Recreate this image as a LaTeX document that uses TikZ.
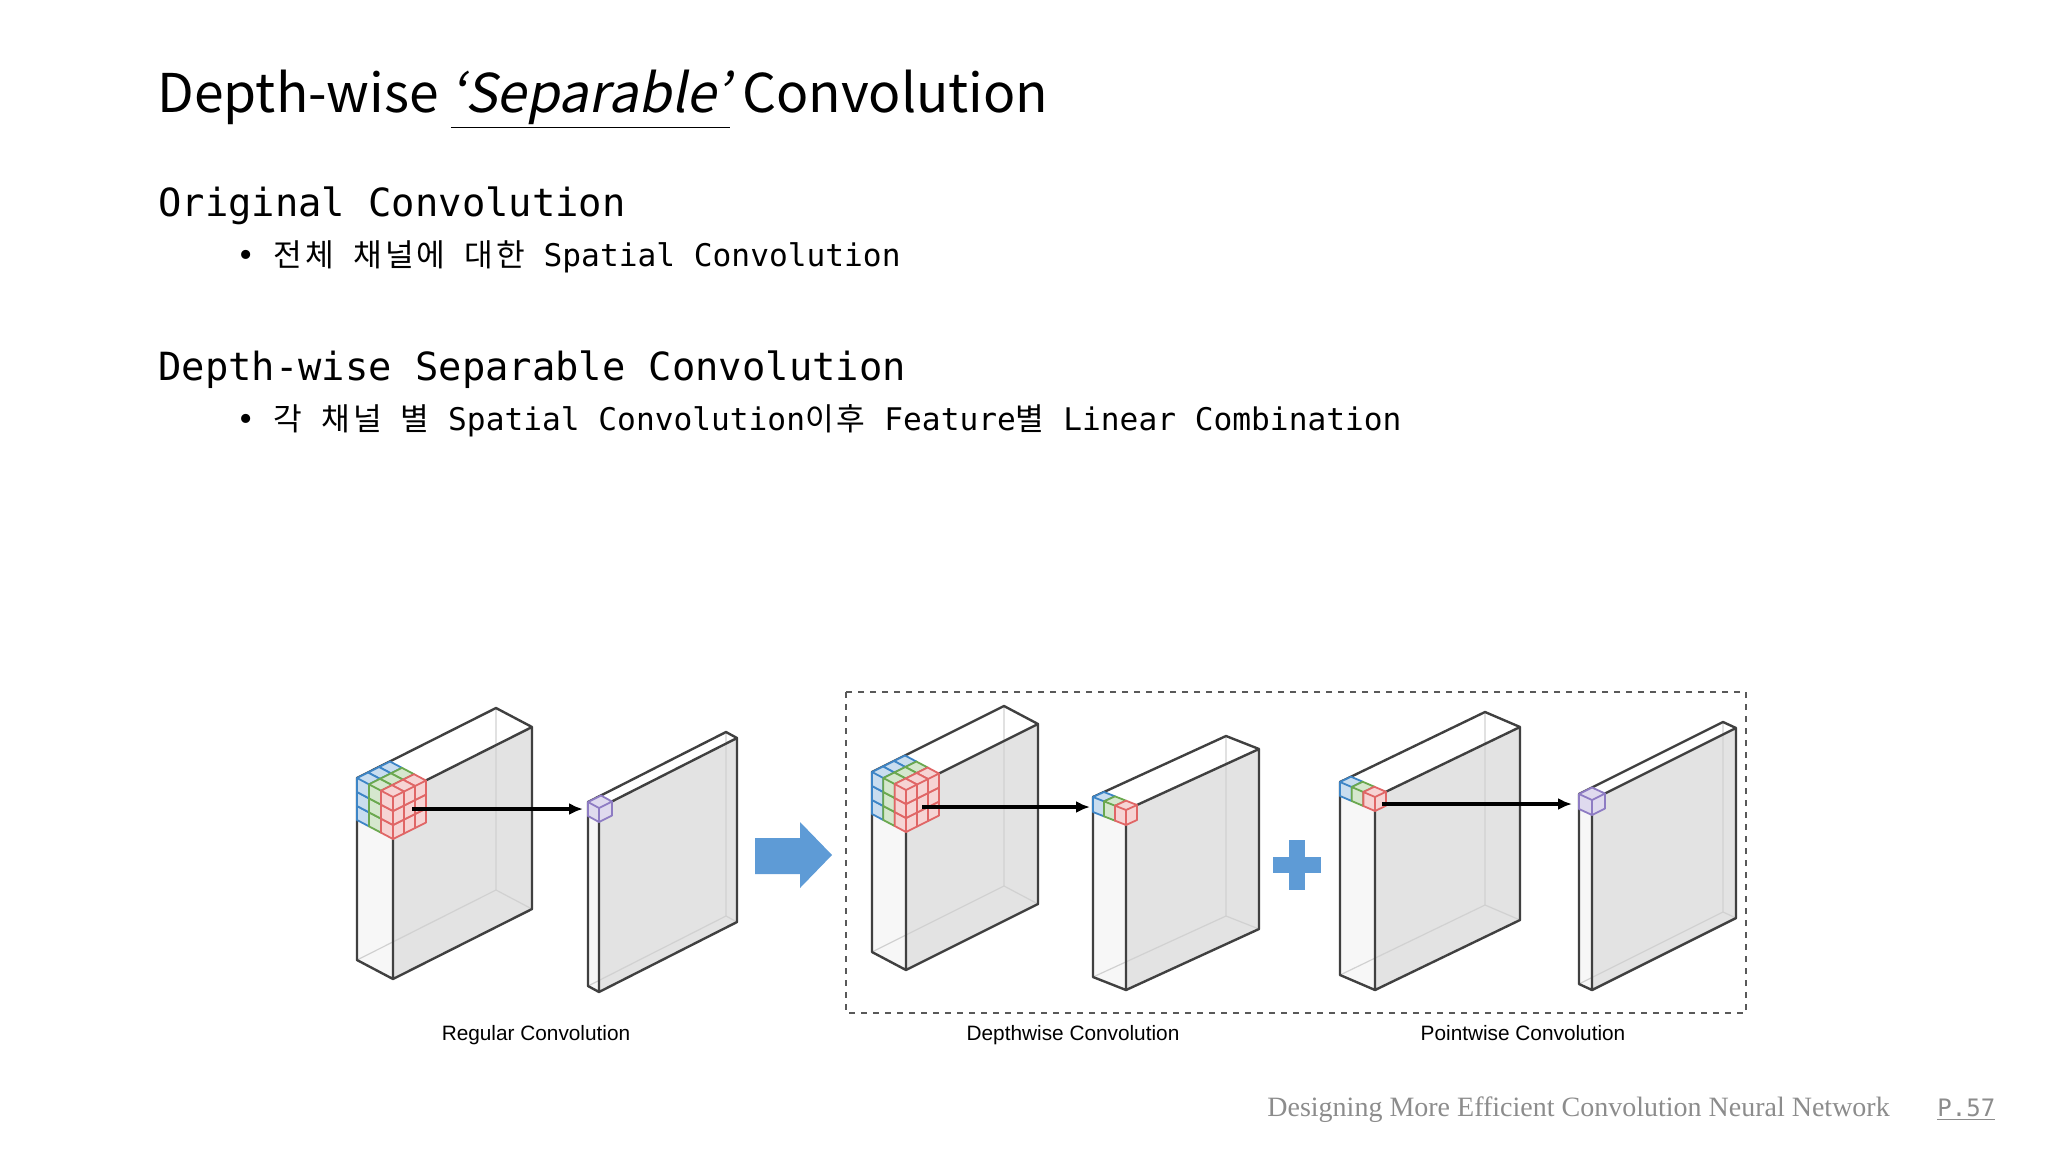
\documentclass[tikz,border=0pt]{standalone}
\usepackage{fontspec}
\setmainfont{Liberation Sans}
\setmonofont{DejaVu Sans Mono}
\newfontfamily\kr{Noto Sans CJK KR}
\newfontfamily\krm[LetterSpace=10]{Noto Sans CJK KR}
\newfontfamily\krsl[FakeSlant=0.2]{Noto Sans CJK KR}
\newfontfamily\footfont{Liberation Serif}
\usetikzlibrary{calc,arrows.meta}
\definecolor{kblue}{HTML}{3D85C6}
\definecolor{kgreen}{HTML}{6AA84F}
\definecolor{kred}{HTML}{E06666}
\definecolor{kpurple}{HTML}{8E7CC3}
\definecolor{bigblue}{HTML}{5E9BD6}
\tikzset{
  edge/.style={draw=black!75, line width=1.2pt, line join=round},
  hidden/.style={draw=black!18, line width=0.6pt},
  flow/.style={-{Latex[length=7pt,width=6pt]}, line width=1.6pt},
  caption/.style={font=\fontsize{10.4}{12}\selectfont, anchor=base},
}
% slab: #1 name, #2 bx, #3 by, #4 dx, #5 dy, #6 wx, #7 wy, #8 h
\newcommand\slab[8]{%
  \coordinate (#1B) at (#2,#3);
  \coordinate (#1F) at ({#2+#4},{#3+#5});
  \coordinate (#1FR) at ({#2+#4+#6},{#3+#5+#7});
  \coordinate (#1BR) at ({#2+#6},{#3+#7});
  \coordinate (#1Bb) at (#2,{#3+#8});
  \coordinate (#1Fb) at ({#2+#4},{#3+#5+#8});
  \coordinate (#1FRb) at ({#2+#4+#6},{#3+#5+#7+#8});
  \coordinate (#1BRb) at ({#2+#6},{#3+#7+#8});
  \fill[black!3] (#1B) -- (#1F) -- (#1Fb) -- (#1Bb) -- cycle;
  \fill[white] (#1B) -- (#1F) -- (#1FR) -- (#1BR) -- cycle;
  \fill[black!11] (#1F) -- (#1FR) -- (#1FRb) -- (#1Fb) -- cycle;
  \draw[hidden] (#1BR) -- (#1BRb) -- (#1Bb) (#1BRb) -- (#1FRb);
  \draw[edge] (#1B) -- (#1F) -- (#1FR) -- (#1BR) -- cycle
    (#1F) -- (#1Fb) -- (#1FRb) -- (#1FR)
    (#1B) -- (#1Bb) -- (#1Fb);
}
% cell: #1 px #2 py #3 dx #4 dy #5 ux #6 uy #7 s #8 colour
\newcommand\cell[8]{%
  \filldraw[draw=#8, fill=#8!28!white, line width=0.9pt, line join=round]
    (#1,#2) -- ({#1+#5},{#2+#6}) -- ({#1+#3+#5},{#2+#4+#6}) -- ({#1+#3},{#2+#4}) -- cycle
    (#1,#2) -- ({#1+#3},{#2+#4}) -- ({#1+#3},{#2+#4+#7}) -- (#1,{#2+#7}) -- cycle
    ({#1+#3},{#2+#4}) -- ({#1+#3+#5},{#2+#4+#6}) -- ({#1+#3+#5},{#2+#4+#6+#7}) -- ({#1+#3},{#2+#4+#7}) -- cycle;
}
% kernel: #1 ox #2 oy #3 dx #4 dy #5 ux #6 uy #7 s #8 nw-1 #9 nh-1
\newcommand\kernel[9]{%
  \foreach \col [count=\k from 0] in {kblue,kgreen,kred}{
    \foreach \j in {#8,...,0}{
      \foreach \i in {#9,...,0}{
        \pgfmathsetmacro\px{#1+\k*#3+\j*#5}
        \pgfmathsetmacro\py{#2+\k*#4+\j*#6+\i*#7}
        \cell{\px}{\py}{#3}{#4}{#5}{#6}{#7}{\col}
      }}}}
\begin{document}
\begin{tikzpicture}[x=0.5pt,y=-0.5pt]
\useasboundingbox (0,0) rectangle (2048,1152);
% texts
\node[anchor=base west, inner sep=0, font=\kr\fontsize{26.7}{30}\selectfont] (title) at (157,112)
  {Depth-wise \underline{{\krsl ‘Separable’}} Convolution};
\node[anchor=base west, inner sep=0, font=\ttfamily\fontsize{19.4}{22}\selectfont] (h1) at (158,216) {Original Convolution};
\node[anchor=base west, inner sep=0, font=\ttfamily\fontsize{15.6}{18}\selectfont] (b1) at (236,266)
  {•\hspace{0.6em}{\krm 전체}\ {\krm 채널에}\ {\krm 대한}\ Spatial Convolution};
\node[anchor=base west, inner sep=0, font=\ttfamily\fontsize{19.4}{22}\selectfont] (h2) at (158,380) {Depth-wise Separable Convolution};
\node[anchor=base west, inner sep=0, font=\ttfamily\fontsize{15.6}{18}\selectfont] (b2) at (236,430)
  {•\hspace{0.6em}{\krm 각}\ {\krm 채널}\ {\krm 별}\ Spatial Convolution{\krm 이후}\ Feature{\krm 별}\ Linear Combination};
% dashed box
\draw[dashed, black!65, line width=0.8pt] (846,692) rectangle (1746,1013);
% regular convolution
\slab{s1}{357}{778}{36}{19}{139}{-70}{182}
\kernel{357}{778}{12}{6.33}{11}{-5.5}{14}{2}{2}
\slab{s2}{588}{802}{11}{6}{138}{-70}{184}
\cell{588}{802}{11}{6}{13}{-6.5}{14}{kpurple}
\coordinate (a1s) at (412,809);
\coordinate (a1e) at (583,809);
\draw[flow] (a1s) -- (a1e);
% big arrow
\fill[bigblue] (755,838) -- (800,838) -- (800,822) -- (832,855) -- (800,888) -- (800,874) -- (755,874) -- cycle;
% depthwise
\slab{sa}{872}{772}{34}{18}{132}{-66}{180}
\kernel{872}{772}{11.33}{6}{11}{-5.5}{14}{2}{2}
\slab{sb}{1093}{797}{33}{13}{133}{-61}{180}
\kernel{1093}{797}{11}{4.33}{11}{-5}{15}{0}{0}
\coordinate (a2s) at (922,807);
\coordinate (a2e) at (1090,807);
\draw[flow] (a2s) -- (a2e);
% plus
\fill[bigblue] (1289,840) rectangle (1305,890);
\fill[bigblue] (1273,857) rectangle (1321,873);
% pointwise
\slab{sc}{1340}{782}{35}{15}{145}{-70}{193}
\kernel{1340}{782}{11.67}{5}{11}{-5.3}{14}{0}{0}
\slab{sd}{1579}{794}{13}{6}{144}{-72}{190}
\cell{1579}{794}{13}{6}{13}{-6.5}{15}{kpurple}
\coordinate (a3s) at (1382,804);
\coordinate (a3e) at (1572,804);
\draw[flow] (a3s) -- (a3e);
% captions
\node[caption] (c1) at (536,1040) {Regular Convolution};
\node[caption] (c2) at (1073,1040) {Depthwise Convolution};
\node[caption] (c3) at (1523,1040) {Pointwise Convolution};
% footer
\node[anchor=base west, inner sep=0, text=black!45, font=\footfont\fontsize{14}{16}\selectfont] (foot) at (1267,1116) {Designing More Efficient Convolution Neural Network};
\node[anchor=base west, inner sep=0, text=black!45, font=\ttfamily\fontsize{12}{14}\selectfont] (page) at (1937,1116) {\underline{P.57}};
\end{tikzpicture}
\end{document}
